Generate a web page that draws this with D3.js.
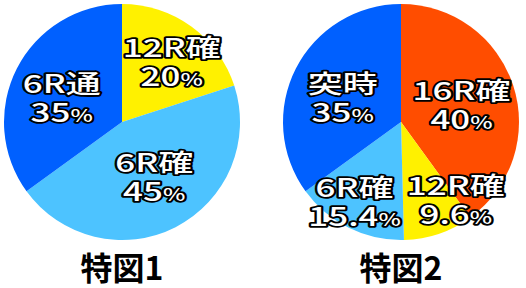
<!DOCTYPE html>
<html>
<head>
<meta charset="utf-8">
<script src="https://cdn.jsdelivr.net/npm/d3@7"></script>
<style>
  body { margin: 0; background: #fff; }
  svg { display: block; }
</style>
</head>
<body>
<svg id="chart" width="526" height="288"></svg>
<script>
// Data for the two pies
const titles = ['特図1', '特図2'];
const pie1Names = ['12R確', '6R確', '6R通'];
const pie1Values = [20, 45, 35];
const pie2Names = ['16R確', '12R確', '6R確', '突時'];
const pie2Values = [40, 9.6, 15.4, 35];

const pie1Colors = ['#fff100', '#4dc3ff', '#0060ff'];
const pie2Colors = ['#ff4d00', '#fff100', '#4dc3ff', '#0060ff'];

// Layout
const RADIUS = 118;
const CENTERS = [{ x: 122, y: 122 }, { x: 401, y: 122 }];
const LABEL_RADIUS = 71;
// hand tweaks for each label, moved off the slice centroid
const pie1Nudge = [[8, -8], [0, -13], [3, 3]];
const pie2Nudge = [[-7, 0], [32, 6], [-15, 11], [5, 3]];

const svg = d3.select('#chart');

const pie = d3.pie().sort(null).value(d => d.value);
const arc = d3.arc().innerRadius(0).outerRadius(RADIUS);
const labelArc = d3.arc().innerRadius(LABEL_RADIUS).outerRadius(LABEL_RADIUS);

const charts = [
  { names: pie1Names, values: pie1Values, colors: pie1Colors, nudge: pie1Nudge },
  { names: pie2Names, values: pie2Values, colors: pie2Colors, nudge: pie2Nudge }
];

charts.forEach((c, ci) => {
  const rows = c.names.map((n, i) => ({ name: n, value: c.values[i], color: c.colors[i], nudge: c.nudge[i] }));
  const g = svg.append('g')
    .attr('transform', `translate(${CENTERS[ci].x}, ${CENTERS[ci].y})`);

  const arcs = pie(rows);

  g.selectAll('path')
    .data(arcs)
    .join('path')
    .attr('d', arc)
    .attr('fill', d => d.data.color);

  // Labels: white text with black outline, stretched sideways
  const labels = g.selectAll('.label')
    .data(arcs)
    .join('text')
    .attr('class', 'label')
    .attr('transform', d => {
      const [x, y] = labelArc.centroid(d);
      return `translate(${x + d.data.nudge[0]}, ${y + d.data.nudge[1]}) scale(1.4, 1)`;
    })
    .attr('text-anchor', 'middle')
    .attr('font-family', '"Noto Sans CJK JP", "Noto Sans", sans-serif')
    .attr('font-weight', 500)
    .attr('font-size', 25)
    .attr('fill', '#fff')
    .attr('stroke', '#000')
    .attr('stroke-width', 3.5)
    .attr('stroke-linejoin', 'round')
    .attr('paint-order', 'stroke');

  labels.append('tspan')
    .attr('x', 0)
    .attr('y', 0)
    .text(d => d.data.name);

  const pct = labels.append('tspan')
    .attr('x', 0)
    .attr('y', 29);
  pct.append('tspan').text(d => d.data.value);
  pct.append('tspan').attr('font-size', 17).text('%');

  // Title under each pie
  svg.append('text')
    .attr('x', CENTERS[ci].x)
    .attr('y', 280)
    .attr('text-anchor', 'middle')
    .attr('font-family', '"Noto Sans CJK JP", "Noto Sans", sans-serif')
    .attr('font-weight', 700)
    .attr('font-size', 32)
    .attr('fill', '#000')
    .text(titles[ci]);
});
</script>
</body>
</html>
